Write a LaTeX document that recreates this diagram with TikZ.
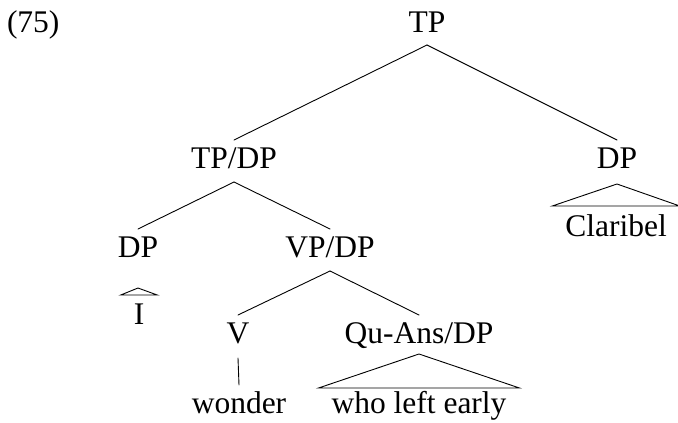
\documentclass[tikz,border=0pt]{standalone}
\usepackage{fontspec}
\setmainfont{Liberation Serif}
\usetikzlibrary{calc}
\tikzset{
  lab/.style={inner sep=0pt, outer sep=0pt, anchor=base, text height=21pt, text depth=0pt,
              font=\fontsize{31.5pt}{36pt}\selectfont},
  branch/.style={line width=0.9pt, line cap=round},
  roof/.style={line width=0.9pt, line join=miter}
}
\begin{document}
\begin{tikzpicture}[x=1pt,y=-1pt]
\useasboundingbox (0,0) rectangle (678,423);
\node[lab, anchor=base west] (ex) at (7,32) {(75)};
\node[lab] (TP) at (427,32) {TP};
\node[lab] (TPDP) at (234,168) {TP/DP};
\node[lab] (DPr) at (617,168) {DP};
\node[lab] (Cl) at (616,236) {Claribel};
\node[lab] (DPl) at (138,257) {DP};
\node[lab] (VPDP) at (330,257) {VP/DP};
\node[lab] (I) at (139,324) {I};
\node[lab] (V) at (238,343) {V};
\node[lab] (QA) at (419,343) {Qu-Ans/DP};
\node[lab] (wo) at (239,413) {wonder};
\node[lab] (wle) at (419,413) {who left early};
% branches
\draw[branch] ([yshift=-13pt]TP.south) -- ([yshift=7pt]TPDP.north);
\draw[branch] ([yshift=-13pt]TP.south) -- ([yshift=7pt]DPr.north);
\draw[branch] ([yshift=-14pt]TPDP.south) -- ([yshift=7pt]DPl.north);
\draw[branch] ([yshift=-14pt]TPDP.south) -- ([yshift=7pt]VPDP.north);
\draw[branch] ([yshift=-14pt]VPDP.south) -- ([yshift=7pt]V.north);
\draw[branch] ([yshift=-14pt]VPDP.south) -- ([yshift=7pt]QA.north);
\draw[branch] ([yshift=-15pt]V.south) -- ([yshift=7pt]wo.north);
% roofs
\draw[roof] ([yshift=-16pt]DPr.south) -- ($(Cl.north east)+(13pt,9pt)$) -- ($(Cl.north west)+(-13pt,9pt)$) -- cycle;
\draw[roof] ([yshift=-11pt]QA.south) -- ($(wle.north east)+(13pt,4pt)$) -- ($(wle.north west)+(-13pt,4pt)$) -- cycle;
\draw[roof] ([yshift=-31pt]DPl.south) -- ($(I.north east)+(13pt,8pt)$) -- ($(I.north west)+(-13pt,8pt)$) -- cycle;
\end{tikzpicture}
\end{document}
